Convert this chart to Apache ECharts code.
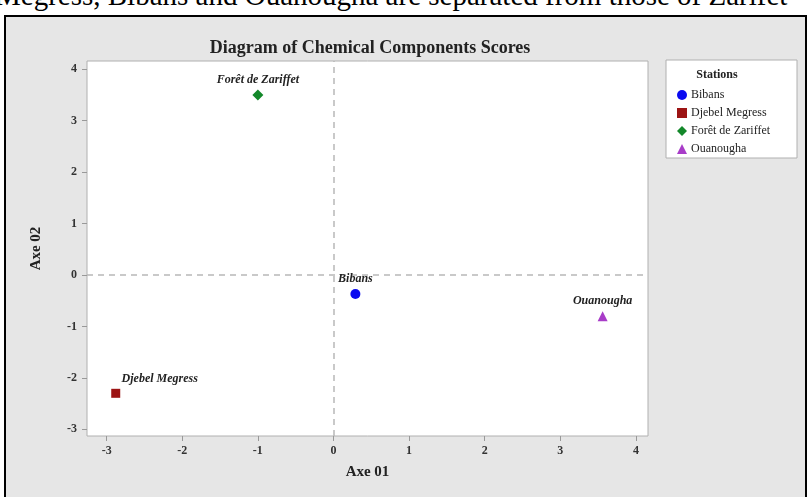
<!DOCTYPE html>
<html><head><meta charset="utf-8">
<script src="https://cdn.jsdelivr.net/npm/echarts@6/dist/echarts.min.js"></script>
<style>
html,body{margin:0;padding:0;background:#fff;overflow:hidden;}
#frame{position:absolute;left:4px;top:15px;width:803px;height:490px;background:#e6e6e6;border:2px solid #000;box-sizing:border-box;}
#top{position:absolute;left:-5px;top:-20px;font-family:"Liberation Serif","Times New Roman",serif;font-size:29px;line-height:30px;color:#000;white-space:nowrap;}
#c{position:absolute;left:0;top:0;width:807px;height:497px;}
</style></head>
<body>
<div id="top">Megress, Bibans and Ouanougha are separated from those of Zarifet</div>
<div id="frame"></div>
<div id="c"></div>
<script>
const stations = ["Bibans", "Djebel Megress", "Forêt de Zariffet", "Ouanougha"];
const axe01 = [0.29, -2.88, -1.0, 3.56];
const axe02 = [-0.37, -2.30, 3.50, -0.80];
const colors = ["#0a0af0", "#9c1414", "#13882a", "#a83cc8"];
const symbols = ["circle", "rect", "diamond", "triangle"];
const xTicks = [-3, -2, -1, 0, 1, 2, 3, 4];
const yTicks = [-3, -2, -1, 0, 1, 2, 3, 4];

const serif = '"Liberation Serif","Times New Roman",serif';
const chart = echarts.init(document.getElementById('c'), null, {renderer: 'canvas'});

const labelOffsets = [[0, 0], [44, 0], [0, 0], [0, 0]];
const series = stations.map((s, i) => ({
  name: s,
  type: 'scatter',
  symbol: symbols[i],
  symbolSize: symbols[i] === 'rect' ? 9 : (symbols[i] === 'diamond' ? 11 : 10),
  itemStyle: {color: colors[i], opacity: 1},
  data: [[axe01[i], axe02[i]]],
  label: {
    show: true, position: 'top', distance: 4, offset: labelOffsets[i],
    formatter: s, fontFamily: serif, fontStyle: 'italic', fontWeight: 'bold',
    fontSize: 12, color: '#222'
  },
  z: 5
}));
series.push({
  type: 'scatter', data: [], silent: true,
  markLine: {
    silent: true, symbol: 'none', label: {show: false},
    lineStyle: {type: [6, 5], color: '#b8b8b8', width: 1.5},
    data: [{xAxis: 0}, {yAxis: 0}]
  }
});

chart.setOption({
  backgroundColor: 'transparent',
  animation: false,
  title: {
    text: 'Diagram of Chemical Components Scores',
    left: 365, top: 34, textAlign: 'center',
    textStyle: {fontFamily: serif, fontWeight: 'bold', fontSize: 18, color: '#222'}
  },
  legend: {
    orient: 'vertical', left: 672, top: 84, itemGap: 6, itemWidth: 10, itemHeight: 10,
    data: stations.map((s, i) => ({name: s, icon: symbols[i]})),
    itemStyle: {opacity: 1},
    textStyle: {fontFamily: serif, fontSize: 12, color: '#222', padding: [0, 0, 0, -1]}
  },
  graphic: [
    {type: 'rect', shape: {x: 666, y: 60, width: 131, height: 98},
     style: {fill: '#fff', stroke: '#b0b0b0', lineWidth: 1}, z: -1},
    {type: 'text', x: 717, y: 69,
     style: {text: 'Stations', font: 'bold 12px ' + serif, fill: '#222', textAlign: 'center'}}
  ],
  grid: {left: 87, right: 159, top: 61, bottom: 61, show: true,
    backgroundColor: '#fff', borderColor: '#b0b0b0', borderWidth: 1},
  xAxis: {
    type: 'value', min: -3.26, max: 4.16, interval: 1,
    name: 'Axe 01', nameLocation: 'middle', nameGap: 29,
    nameTextStyle: {fontFamily: serif, fontWeight: 'bold', fontSize: 15, color: '#222'},
    axisLine: {show: false, onZero: false}, splitLine: {show: false},
    axisTick: {show: true, length: 5, lineStyle: {color: '#999'}, customValues: xTicks},
    axisLabel: {fontFamily: serif, fontWeight: 'bold', fontSize: 12, color: '#333', margin: 9,
      customValues: xTicks}
  },
  yAxis: {
    type: 'value', min: -3.13, max: 4.16, interval: 1,
    name: 'Axe 02', nameLocation: 'middle', nameGap: 43, nameRotate: 90,
    nameTextStyle: {fontFamily: serif, fontWeight: 'bold', fontSize: 15, color: '#222'},
    axisLine: {show: false, onZero: false}, splitLine: {show: false},
    axisTick: {show: true, length: 5, lineStyle: {color: '#999'}, customValues: yTicks},
    axisLabel: {fontFamily: serif, fontWeight: 'bold', fontSize: 12, color: '#333', margin: 10,
      customValues: yTicks}
  },
  series: series
});
</script>
</body></html>
